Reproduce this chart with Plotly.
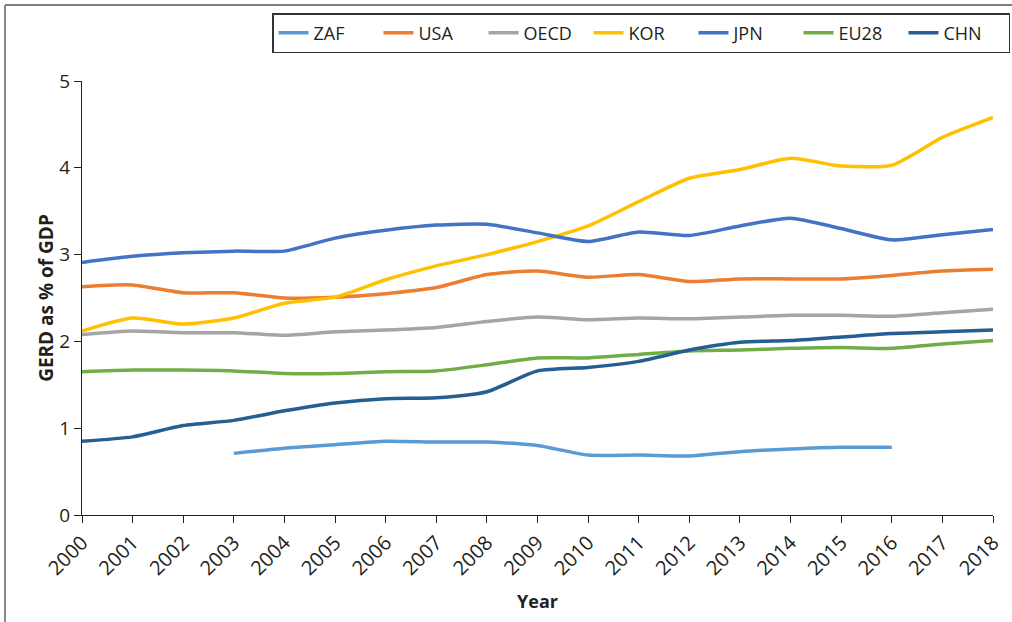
import plotly.graph_objects as go

years = list(range(2000, 2019))

zaf_years = list(range(2003, 2017))
zaf = [0.71, 0.77, 0.81, 0.85, 0.84, 0.84, 0.80, 0.69, 0.69, 0.68, 0.73, 0.76, 0.78, 0.78]
usa = [2.63, 2.65, 2.56, 2.56, 2.50, 2.51, 2.55, 2.62, 2.77, 2.81, 2.74, 2.77, 2.69, 2.72, 2.72, 2.72, 2.76, 2.81, 2.83]
oecd = [2.08, 2.12, 2.10, 2.10, 2.07, 2.11, 2.13, 2.16, 2.23, 2.28, 2.25, 2.27, 2.26, 2.28, 2.30, 2.30, 2.29, 2.33, 2.37]
kor = [2.12, 2.27, 2.20, 2.27, 2.44, 2.51, 2.71, 2.87, 3.00, 3.15, 3.33, 3.61, 3.88, 3.98, 4.11, 4.02, 4.03, 4.35, 4.58]
jpn = [2.91, 2.98, 3.02, 3.04, 3.04, 3.19, 3.28, 3.34, 3.35, 3.25, 3.15, 3.26, 3.22, 3.33, 3.42, 3.30, 3.17, 3.23, 3.29]
eu28 = [1.65, 1.67, 1.67, 1.66, 1.63, 1.63, 1.65, 1.66, 1.73, 1.81, 1.81, 1.85, 1.89, 1.90, 1.92, 1.93, 1.92, 1.97, 2.01]
chn = [0.85, 0.90, 1.03, 1.09, 1.20, 1.29, 1.34, 1.35, 1.42, 1.66, 1.70, 1.77, 1.90, 1.99, 2.01, 2.05, 2.09, 2.11, 2.13]

series = [
    ("ZAF", zaf_years, zaf, "#5B9BD5"),
    ("USA", years, usa, "#ED7D31"),
    ("OECD", years, oecd, "#A5A5A5"),
    ("KOR", years, kor, "#FFC000"),
    ("JPN", years, jpn, "#4472C4"),
    ("EU28", years, eu28, "#70AD47"),
    ("CHN", years, chn, "#255E91"),
]

FONT = "Open Sans"
TXT = "#231f20"

fig = go.Figure()
for name, xs, ys, col in series:
    fig.add_trace(go.Scatter(
        x=xs, y=ys, name=name, mode="lines",
        line=dict(color=col, width=3.5, shape="spline", smoothing=0.6),
    ))

L, R, T, B = 82, 19, 81, 107
W, H = 1012, 622
pw, ph = W - L - R, H - T - B

def px(xpix):
    return (xpix - L) / pw

def py(ypix):
    return (H - B - ypix) / ph

fig.update_layout(
    width=W, height=H,
    margin=dict(l=L, r=R, t=T, b=B, autoexpand=False),
    paper_bgcolor="white", plot_bgcolor="white",
    font=dict(family=FONT, color=TXT, size=18),
    showlegend=True,
    legend=dict(
        orientation="h",
        xref="container", yref="container",
        x=1010 / W, xanchor="right",
        y=1 - 13 / H, yanchor="top",
        bordercolor="#333333", borderwidth=1.5,
        font=dict(size=18, family=FONT, color=TXT),
        bgcolor="white",
        entrywidth=60, entrywidthmode="pixels",
    ),
    xaxis=dict(
        range=[2000, 2018],
        tickmode="array", tickvals=years, ticktext=[str(y) for y in years],
        tickangle=-45, automargin=False,
        ticks="outside", ticklen=7, tickcolor="#231f20", tickwidth=1.2,
        showline=True, linecolor="#231f20", linewidth=1.2,
        showgrid=False, zeroline=False,
        tickfont=dict(size=20, family=FONT, color=TXT),
        title=dict(text="<b>Year</b>", font=dict(size=18, family=FONT, color=TXT), standoff=15),
    ),
    yaxis=dict(
        range=[0, 5],
        tickvals=[0, 1, 2, 3, 4, 5], automargin=False,
        ticks="outside", ticklen=7, tickcolor="#231f20", tickwidth=1.2,
        showline=True, linecolor="#231f20", linewidth=1.2,
        showgrid=False, zeroline=False,
        tickfont=dict(size=19, family=FONT, color=TXT),
        title=dict(text="<b>GERD as % of GDP</b>", font=dict(size=19, family=FONT, color=TXT), standoff=0),
    ),
)

# outer frame (top and left edges visible)
fig.add_shape(type="line", xref="paper", yref="paper",
              x0=px(5), x1=px(1015), y0=py(5), y1=py(5),
              line=dict(color="#555555", width=1.5))
fig.add_shape(type="line", xref="paper", yref="paper",
              x0=px(5), x1=px(5), y0=py(5), y1=py(625),
              line=dict(color="#888888", width=2))

fig.write_html(
    "out.html",
    config={"displayModeBar": False},
    post_script="document.body.style.margin='0';document.body.style.overflow='hidden';",
)
